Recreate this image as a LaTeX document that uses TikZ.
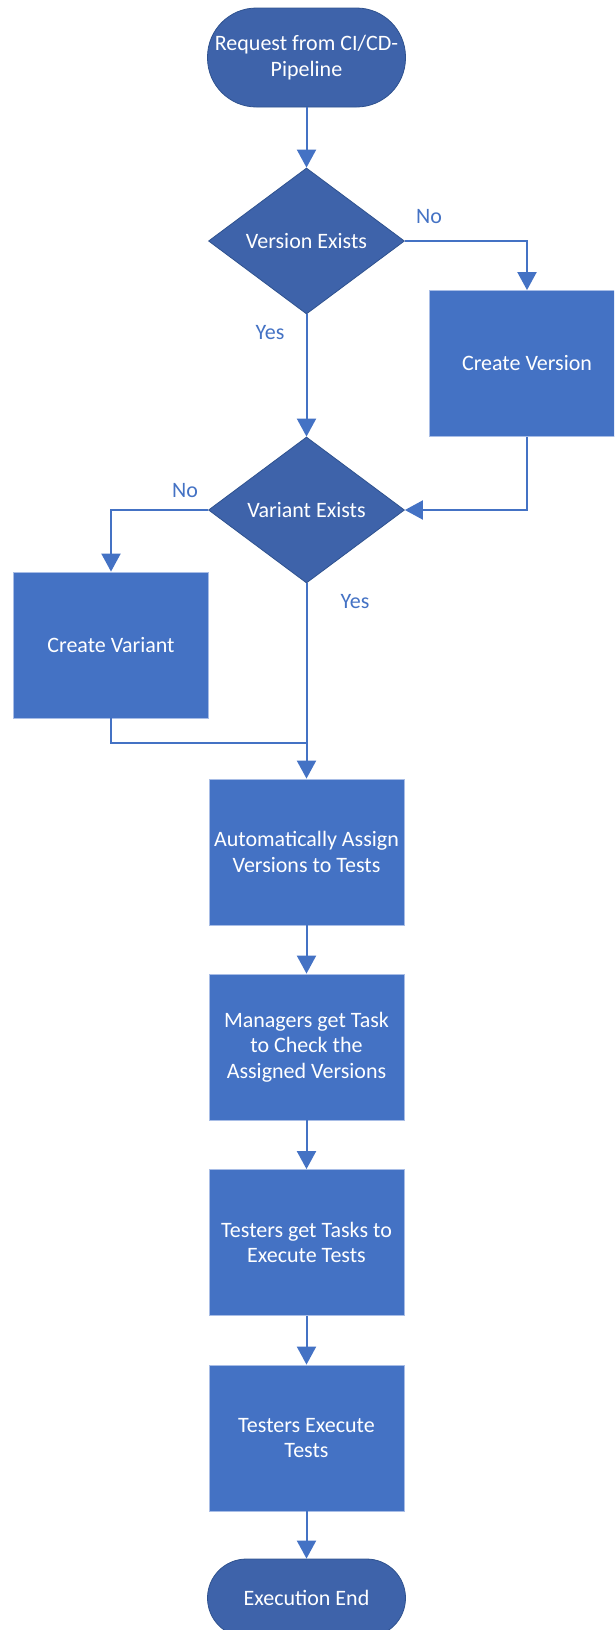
\documentclass[tikz,border=0pt]{standalone}
\usepackage{fontspec}
\setmainfont{Carlito}
\usetikzlibrary{shapes.geometric,arrows.meta}

\definecolor{boxblue}{HTML}{4472C4}
\definecolor{boxedge}{HTML}{A8BDE6}
\definecolor{darkblue}{HTML}{3E63AA}
\definecolor{darkedge}{HTML}{2F528F}
\definecolor{lineblue}{HTML}{4472C4}

\tikzset{
  every node/.style={font=\fontsize{22pt}{25.5pt}\selectfont, align=center},
  procbox/.style={rectangle, fill=boxblue, draw=boxedge, line width=0.8pt,
    minimum width=195pt, minimum height=146pt, inner sep=0pt, text=white},
  terminal/.style={rectangle, rounded corners=49pt, fill=darkblue, draw=darkedge,
    line width=0.8pt, minimum width=198pt, minimum height=99pt, inner sep=0pt, text=white},
  decision/.style={diamond, fill=darkblue, draw=darkedge, line width=0.8pt,
    minimum width=196pt, minimum height=146pt, inner sep=0pt, text=white},
  flow/.style={draw=lineblue, line width=2pt},
  arr/.style={flow, -{Triangle[width=19pt,length=18pt]}},
  lbl/.style={text=lineblue}
}

\begin{document}
\begin{tikzpicture}[x=1pt, y=-1pt]
  \clip (0,0) rectangle (614,1630);
  \useasboundingbox (0,0) rectangle (614,1630);

  % nodes of the main column
  \node[terminal] (start) at (306.5,57.5) {Request from CI/CD-\\Pipeline};
  \node[decision] (v1) at (306.5,241) {Version Exists};
  \node[decision] (v2) at (306.5,510) {Variant Exists};
  \node[procbox] (auto) at (306.5,852) {Automatically Assign\\Versions to Tests};
  \node[procbox] (mgr) at (306.5,1047) {Managers get Task\\to Check the\\Assigned Versions};
  \node[procbox] (tget) at (306.5,1242.5) {Testers get Tasks to\\Execute Tests};
  \node[procbox] (texe) at (306.5,1438) {Testers Execute\\Tests};
  \node[terminal, minimum height=78pt, rounded corners=39pt] (fin) at (306.5,1598) {Execution End};

  % side branches
  \node[procbox] (cver) at (527,363.5) {Create Version};
  \node[procbox] (cvar) at (111,645) {Create Variant};

  \coordinate (join) at (306.5,743);

  % connectors
  \draw[arr] (start) -- (v1);
  \draw[arr] (v1.east) -| (cver.north);
  \draw[arr] (v1) -- (v2);
  \draw[arr] (cver.south) |- (v2.east);
  \draw[arr] (v2.west) -| (cvar.north);
  \draw[arr] (v2) -- (auto);
  \draw[flow] (cvar.south) |- (join);
  \draw[arr] (auto) -- (mgr);
  \draw[arr] (mgr) -- (tget);
  \draw[arr] (tget) -- (texe);
  \draw[arr] (texe) -- (fin);

  % branch labels
  \node[lbl] (no1) at (429,217) {No};
  \node[lbl] (yes1) at (270,333) {Yes};
  \node[lbl] (no2) at (185,491) {No};
  \node[lbl] (yes2) at (355,602) {Yes};
\end{tikzpicture}
\end{document}
